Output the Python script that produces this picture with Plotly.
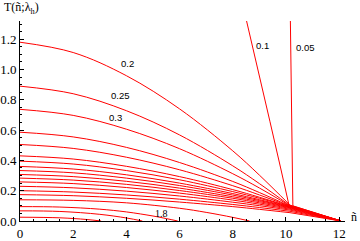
import plotly.graph_objects as go

# ---------------- data ----------------
# common abscissae for the curves that run into the crossing point near ñ≈10.15
n_grid = [0, 2, 4, 6, 8, 9, 10.15]
n_end = 12.07

T_lam_020 = [1.180, 1.112, 0.959, 0.740, 0.463, 0.303, 0.105]
T_lam_025 = [0.890, 0.840, 0.728, 0.568, 0.364, 0.247, 0.102]
T_lam_030 = [0.737, 0.697, 0.606, 0.477, 0.312, 0.218, 0.100]
T_c04 = [0.586, 0.555, 0.486, 0.386, 0.261, 0.188, 0.098]
T_c05 = [0.505, 0.479, 0.421, 0.338, 0.233, 0.172, 0.097]
T_c06 = [0.430, 0.409, 0.361, 0.293, 0.207, 0.157, 0.095]
T_c07 = [0.395, 0.376, 0.333, 0.272, 0.194, 0.150, 0.094]
T_c08 = [0.360, 0.343, 0.305, 0.250, 0.181, 0.141, 0.092]
T_c09 = [0.333, 0.318, 0.283, 0.234, 0.171, 0.135, 0.090]
T_c10 = [0.307, 0.293, 0.262, 0.217, 0.160, 0.128, 0.087]
T_c11 = [0.283, 0.270, 0.242, 0.201, 0.150, 0.120, 0.083]
T_c12 = [0.258, 0.247, 0.221, 0.184, 0.138, 0.111, 0.078]
T_c13 = [0.229, 0.219, 0.197, 0.165, 0.124, 0.101, 0.072]
T_c14 = [0.200, 0.191, 0.172, 0.144, 0.109, 0.089, 0.064]
T_c15 = [0.174, 0.167, 0.150, 0.125, 0.095, 0.077, 0.055]

# curves that reach T = 0 before the end point
n_c16 = [0, 2, 4, 6, 7, 8, 8.63]
T_c16 = [0.140, 0.136, 0.120, 0.084, 0.057, 0.024, 0.0]
n_lam_180 = [0, 1.5, 3, 4, 5, 5.5, 5.93]
T_lam_180 = [0.095, 0.092, 0.078, 0.060, 0.033, 0.016, 0.0]
n_c18 = [0, 1.5, 3, 4, 4.6]
T_c18 = [0.067, 0.063, 0.044, 0.020, 0.0]
n_c19 = [0, 1.5, 2.5, 3.05]
T_c19 = [0.025, 0.021, 0.010, 0.0]

# the two steep curves
n_lam_010 = [8.40, 8.90, 9.40, 9.80, 10.12, 12.07]
T_lam_010 = [1.410, 1.040, 0.655, 0.350, 0.100, 0.0]
n_lam_005 = [10.16, 10.22, 10.26, 12.07]
T_lam_005 = [1.400, 0.663, 0.100, 0.0]

label_text = ["0.2", "0.25", "0.3", "1.8", "0.1", "0.05"]
label_n = [4.05, 3.76, 3.59, 5.31, 9.12, 10.73]
label_T = [1.042, 0.828, 0.685, 0.047, 1.158, 1.142]

x_ticks = [0, 2, 4, 6, 8, 10, 12]
y_ticks = [0.0, 0.2, 0.4, 0.6, 0.8, 1.0, 1.2]

# ---------------- figure ----------------
RED = "#ff0000"
SERIF = "Liberation Serif"
SANS = "Liberation Sans"
fig = go.Figure()

through = [T_lam_020, T_lam_025, T_lam_030, T_c04, T_c05, T_c06, T_c07, T_c08,
           T_c09, T_c10, T_c11, T_c12, T_c13, T_c14, T_c15]
for T in through:
    fig.add_trace(go.Scatter(x=n_grid, y=T, mode="lines",
                             line=dict(color=RED, width=1, shape="spline", smoothing=1.0),
                             hoverinfo="skip", showlegend=False))
    fig.add_trace(go.Scatter(x=[n_grid[-1], n_end], y=[T[-1], 0.0], mode="lines",
                             line=dict(color=RED, width=1),
                             hoverinfo="skip", showlegend=False))

for nn, T in [(n_c16, T_c16), (n_lam_180, T_lam_180), (n_c18, T_c18), (n_c19, T_c19)]:
    fig.add_trace(go.Scatter(x=nn, y=T, mode="lines",
                             line=dict(color=RED, width=1, shape="spline", smoothing=1.0),
                             hoverinfo="skip", showlegend=False))

for nn, T in [(n_lam_010, T_lam_010), (n_lam_005, T_lam_005)]:
    fig.add_trace(go.Scatter(x=nn, y=T, mode="lines",
                             line=dict(color=RED, width=1),
                             hoverinfo="skip", showlegend=False))

for t, xn, yt in zip(label_text, label_n, label_T):
    serif = t == "1.8"
    fig.add_annotation(x=xn, y=yt, text=t, showarrow=False,
                       font=dict(family=SERIF if serif else SANS,
                                 size=10 if serif else 9.5, color="black"))

fig.add_annotation(xref="paper", yref="paper", x=-0.054, y=1.065, xanchor="left",
                   yanchor="middle", text="T(ñ;λ<sub>h</sub>)", showarrow=False,
                   font=dict(family=SERIF, size=12, color="black"))
fig.add_annotation(xref="paper", yref="paper", x=1.028, y=0.02, xanchor="center",
                   yanchor="middle", text="ñ", showarrow=False,
                   font=dict(family=SERIF, size=12, color="black"))

axis_common = dict(showline=True, linecolor="black", linewidth=1, showgrid=False,
                   zeroline=False, ticks="inside", ticklen=4, tickwidth=1,
                   tickcolor="black", automargin=False,
                   tickfont=dict(family=SERIF, size=13, color="black"))

fig.update_xaxes(range=[0, 12.22], tickvals=x_ticks,
                 ticktext=[str(v) for v in x_ticks],
                 minor=dict(dtick=0.5, tick0=0, ticks="inside", ticklen=2,
                            tickcolor="black", showgrid=False),
                 **axis_common)
fig.update_yaxes(range=[0, 1.32], tickvals=y_ticks,
                 ticktext=[f"{v:.1f}" for v in y_ticks],
                 minor=dict(dtick=0.05, tick0=0, ticks="inside", ticklen=2,
                            tickcolor="black", showgrid=False),
                 **axis_common)

fig.update_layout(template="none", width=360, height=241,
                  font=dict(family=SERIF, color="black"),
                  margin=dict(l=20, r=15, t=21, b=20),
                  paper_bgcolor="white", plot_bgcolor="white", showlegend=False)

fig.write_html("out.html", config={"displayModeBar": False, "staticPlot": True},
               post_script="document.body.style.margin='0px';document.body.style.overflow='hidden';")
